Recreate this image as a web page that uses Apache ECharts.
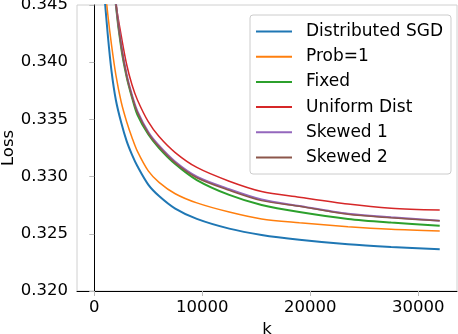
<!DOCTYPE html>
<html>
<head>
<meta charset="utf-8">
<script src="https://cdn.jsdelivr.net/npm/echarts@6/dist/echarts.min.js"></script>
<style>
  html, body { margin: 0; padding: 0; background: #fff; }
  #main { width: 458px; height: 334px; }
</style>
</head>
<body>
<div id="main"></div>
<script>
var myChart = echarts.init(document.getElementById('main'));

// iterations k (shared by every curve)
var kValues = [900, 1250, 1600, 2000, 2500, 3000, 3500, 4000, 5000, 6000, 7500, 9500, 12500, 15500, 19000, 23500, 27500, 32000];

var distSGD = [0.3463, 0.3424, 0.3392, 0.3367, 0.3347, 0.3331, 0.3319, 0.3309, 0.3293, 0.3283, 0.3272, 0.3263, 0.32545, 0.3249, 0.32448, 0.32408, 0.32385, 0.32366];
var prob1   = [0.3475, 0.3442, 0.3415, 0.3389, 0.3365, 0.3348, 0.3334, 0.3322, 0.3305, 0.3295, 0.3285, 0.3277, 0.3269, 0.3263, 0.32597, 0.32562, 0.32539, 0.32524];
var fixed   = [0.3600, 0.3545, 0.3500, 0.3450, 0.3412, 0.3387, 0.3369, 0.3354, 0.3337, 0.3325, 0.3311, 0.3297, 0.3284, 0.32752, 0.3269, 0.3263, 0.32598, 0.32570];
var uniform = [0.3620, 0.3570, 0.3515, 0.3453, 0.3423, 0.3398, 0.3380, 0.3367, 0.3348, 0.3335, 0.3321, 0.3308, 0.3296, 0.3287, 0.3282, 0.3276, 0.32724, 0.32708];
var skewed1 = [0.3602, 0.3547, 0.3502, 0.3452, 0.3415, 0.3389, 0.3371, 0.3357, 0.3339, 0.3327, 0.3313, 0.3300, 0.3289, 0.3280, 0.32743, 0.32675, 0.32644, 0.32614];
var skewed2 = [0.3602, 0.3547, 0.3502, 0.3452, 0.3414, 0.3388, 0.3370, 0.3356, 0.3338, 0.3326, 0.3312, 0.3299, 0.3288, 0.3279, 0.3274, 0.3267, 0.3264, 0.32614];

var xTicks = [0, 10000, 20000, 30000];

function pairs(vals) {
    return kValues.map(function (k, i) { return [k, vals[i]]; });
}

function line(name, vals, color, width) {
    return {
        name: name,
        type: 'line',
        data: pairs(vals),
        symbol: 'none',
        smooth: 0.3,
        clip: true,
        lineStyle: { color: color, width: width },
        itemStyle: { color: color }
    };
}

var font = 'DejaVu Sans';

option = {
    backgroundColor: '#fff',
    animation: false,
    textStyle: { fontFamily: font },
    grid: {
        left: 77,
        right: 1,
        top: 5,
        bottom: 43,
        outerBoundsMode: 'none',
        containLabel: false,
        show: true,
        borderColor: '#d0d0d0',
        borderWidth: 1,
        backgroundColor: 'transparent'
    },
    legend: {
        orient: 'vertical',
        left: 250,
        top: 15,
        padding: [8, 8, 8, 5],
        itemWidth: 36,
        itemHeight: 14,
        itemGap: 8.2,
        backgroundColor: '#fff',
        borderColor: '#cccccc',
        borderWidth: 1,
        borderRadius: 3,
        itemStyle: { opacity: 0 },
        textStyle: { fontFamily: font, fontSize: 17, color: '#000', padding: [0, 0, 0, 9] },
        data: ['Distributed SGD', 'Prob=1', 'Fixed', 'Uniform Dist', 'Skewed 1', 'Skewed 2']
    },
    xAxis: {
        type: 'value',
        min: -1600,
        max: 33600,
        name: 'k',
        nameLocation: 'middle',
        nameGap: 25,
        nameTextStyle: { fontFamily: font, fontSize: 16.5, color: '#000' },
        axisLine: { show: true, onZero: false, lineStyle: { color: '#000', width: 1 } },
        axisTick: { show: true, length: 5, customValues: xTicks, lineStyle: { color: '#bbb' } },
        axisLabel: {
            customValues: xTicks,
            margin: 8,
            fontFamily: font,
            fontSize: 16.5,
            color: '#000',
            formatter: function (v) { return String(v); }
        },
        splitLine: { show: false }
    },
    yAxis: {
        type: 'value',
        min: 0.320,
        max: 0.345,
        interval: 0.005,
        name: 'Loss',
        nameLocation: 'middle',
        nameGap: 60,
        nameMoveOverlap: false,
        nameTextStyle: { fontFamily: font, fontSize: 16.5, color: '#000' },
        axisLine: { show: true, lineStyle: { color: '#000', width: 1 } },
        axisTick: { show: true, length: 5, lineStyle: { color: '#bbb' } },
        axisLabel: {
            margin: 9,
            fontFamily: font,
            fontSize: 16.5,
            color: '#000',
            formatter: function (v) { return v.toFixed(3); }
        },
        splitLine: { show: false }
    },
    series: [
        line('Distributed SGD', distSGD, '#1f77b4', 2),
        line('Prob=1', prob1, '#ff7f0e', 1.5),
        line('Fixed', fixed, '#2ca02c', 2),
        line('Uniform Dist', uniform, '#d62728', 1.5),
        line('Skewed 1', skewed1, '#9467bd', 2),
        line('Skewed 2', skewed2, '#8c564b', 1.5)
    ]
};
myChart.setOption(option);
</script>
</body>
</html>
